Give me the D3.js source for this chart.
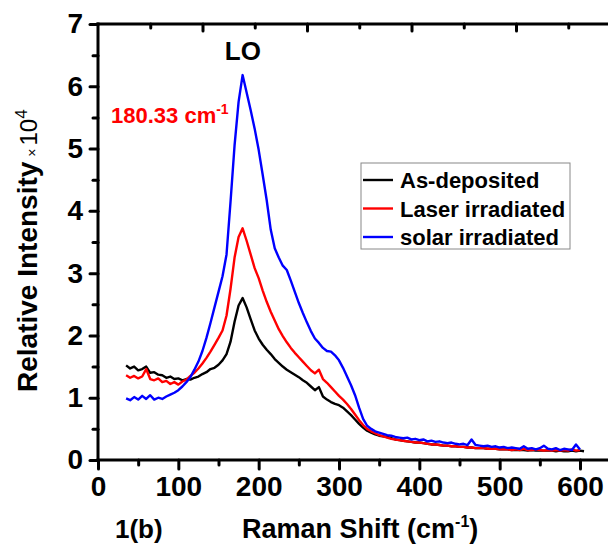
<!DOCTYPE html>
<html><head><meta charset="utf-8">
<script src="https://cdn.jsdelivr.net/npm/d3@7"></script>
<style>
body{margin:0;background:#fff}
text{font-family:"Liberation Sans",Arial,sans-serif}
</style>
</head><body>
<svg id="chart" width="608" height="550"></svg>
<script>
// ---- data (Raman shift grid: 35..600 cm-1, step 5) ----
const shiftStart = 35, shiftStep = 5;
const asDeposited = [
1.52,1.47,1.50,1.44,1.46,1.50,1.40,1.41,1.37,1.36,1.32,1.34,1.30,1.31,1.28,1.30,1.29,1.32,1.34,1.38,
1.41,1.46,1.48,1.53,1.60,1.70,1.90,2.22,2.48,2.60,2.45,2.26,2.08,1.95,1.85,1.77,1.70,1.62,1.56,1.50,
1.45,1.41,1.37,1.33,1.28,1.24,1.18,1.12,1.17,1.02,0.97,0.93,0.90,0.88,0.84,0.78,0.72,0.65,0.58,0.52,
0.47,0.44,0.41,0.39,0.38,0.37,0.35,0.33,0.32,0.31,0.30,0.29,0.28,0.28,0.27,0.26,0.25,0.25,0.24,0.23,
0.23,0.22,0.22,0.21,0.21,0.20,0.20,0.19,0.19,0.19,0.18,0.18,0.18,0.17,0.17,0.17,0.16,0.16,0.16,0.16,
0.15,0.16,0.15,0.15,0.15,0.15,0.15,0.14,0.15,0.14,0.14,0.15,0.14,0.15,0.14];
const laserIrradiated = [
1.36,1.32,1.35,1.31,1.34,1.46,1.30,1.28,1.31,1.25,1.27,1.22,1.25,1.21,1.26,1.29,1.35,1.40,1.47,1.55,
1.64,1.74,1.85,1.96,2.08,2.32,2.75,3.25,3.58,3.72,3.52,3.30,3.08,2.92,2.72,2.54,2.38,2.24,2.10,1.99,
1.89,1.80,1.72,1.65,1.58,1.51,1.44,1.39,1.45,1.30,1.24,1.17,1.10,1.03,0.97,0.90,0.82,0.73,0.64,0.56,
0.50,0.46,0.43,0.40,0.38,0.36,0.34,0.33,0.32,0.31,0.30,0.29,0.28,0.28,0.27,0.26,0.25,0.25,0.24,0.23,
0.23,0.22,0.22,0.21,0.21,0.20,0.20,0.19,0.19,0.19,0.18,0.18,0.18,0.17,0.17,0.17,0.16,0.17,0.16,0.18,
0.16,0.16,0.17,0.16,0.15,0.16,0.15,0.16,0.15,0.16,0.15,0.17,0.15,0.16];
const solarIrradiated = [
0.99,0.96,1.01,0.97,1.03,0.98,1.04,0.97,1.00,0.98,1.02,1.05,1.08,1.12,1.18,1.25,1.33,1.45,1.58,1.75,
1.96,2.20,2.45,2.70,2.95,3.30,4.15,5.05,5.75,6.18,5.90,5.62,5.32,4.98,4.58,4.17,3.70,3.40,3.25,3.12,
3.05,2.88,2.70,2.52,2.36,2.21,2.07,1.95,1.88,1.80,1.75,1.74,1.68,1.60,1.48,1.34,1.20,1.04,0.84,0.66,
0.55,0.50,0.46,0.44,0.42,0.40,0.39,0.37,0.36,0.35,0.36,0.33,0.34,0.32,0.33,0.30,0.31,0.29,0.30,0.28,
0.27,0.28,0.26,0.25,0.26,0.24,0.33,0.24,0.23,0.22,0.23,0.21,0.22,0.20,0.21,0.19,0.20,0.19,0.18,0.22,
0.18,0.19,0.17,0.19,0.23,0.18,0.17,0.19,0.16,0.18,0.17,0.16,0.25,0.17];

const seriesNames  = ["As-deposited", "Laser irradiated", "solar irradiated"];
const seriesColors = ["#000000", "#ff0000", "#0000ff"];
const seriesValues = [asDeposited, laserIrradiated, solarIrradiated];

const xTicks      = [0, 100, 200, 300, 400, 500, 600];
const xMinorTicks = [50, 150, 250, 350, 450, 550];
const yTicks      = [0, 1, 2, 3, 4, 5, 6, 7];
const yMinorTicks = [0.5, 1.5, 2.5, 3.5, 4.5, 5.5, 6.5];
const topMajor    = [100, 200, 300, 400];
const topMinor    = [50, 150, 250, 350, 450];

// ---- layout ----
const svg = d3.select("#chart");
const X0 = 98, X1 = 580, Y0 = 460, Y1 = 24;
const x = d3.scaleLinear().domain([0, 600]).range([X0, X1]);
const y = d3.scaleLinear().domain([0, 7]).range([Y0, Y1]);
const xTop = d3.scaleLinear().domain([0, 100]).range([X0, X0 + 104.5]);

const F = '"Liberation Sans", Arial, sans-serif';
function styleAxis(g){
  g.select(".domain").remove();
  g.selectAll(".tick line").attr("stroke","#000").attr("stroke-width",3).attr("stroke-linecap","round");
  g.selectAll(".tick text").attr("font-family",F).attr("font-weight","bold").attr("font-size",28).attr("fill","#000");
}

// curves
const line = d3.line().x(d => x(d[0])).y(d => y(d[1]));
seriesValues.forEach((vals, k) => {
  const pts = vals.map((v, i) => [shiftStart + i*shiftStep, v]);
  svg.append("path").datum(pts).attr("d", line)
    .attr("fill","none").attr("stroke", seriesColors[k]).attr("stroke-width",2.4).attr("stroke-linejoin","round");
});

// bottom axis
svg.append("g").attr("transform",`translate(0,${Y0})`)
  .call(d3.axisBottom(x).tickValues(xTicks).tickSize(9).tickPadding(7).tickFormat(d3.format("d")))
  .call(styleAxis);
svg.append("g").attr("transform",`translate(0,${Y0})`)
  .call(d3.axisBottom(x).tickValues(xMinorTicks).tickSize(5).tickFormat(""))
  .call(styleAxis);
// left axis
svg.append("g").attr("transform",`translate(${X0},0)`)
  .call(d3.axisLeft(y).tickValues(yTicks).tickSize(8).tickPadding(7).tickFormat(d3.format("d")))
  .call(styleAxis);
svg.append("g").attr("transform",`translate(${X0},0)`)
  .call(d3.axisLeft(y).tickValues(yMinorTicks).tickSize(5).tickFormat(""))
  .call(styleAxis);
// top axis (ticks point down)
svg.append("g").attr("transform",`translate(0,${Y1})`)
  .call(d3.axisBottom(xTop).tickValues(topMajor).tickSize(7).tickFormat(""))
  .call(styleAxis);
svg.append("g").attr("transform",`translate(0,${Y1})`)
  .call(d3.axisBottom(xTop).tickValues(topMinor).tickSize(4).tickFormat(""))
  .call(styleAxis);

// frame lines
svg.append("line").attr("x1",X0).attr("x2",X0).attr("y1",Y1-1.5).attr("y2",Y0+1.5).attr("stroke","#000").attr("stroke-width",3);
svg.append("line").attr("x1",X0-1.5).attr("x2",608).attr("y1",Y0).attr("y2",Y0).attr("stroke","#000").attr("stroke-width",3);
svg.append("line").attr("x1",X0-1.5).attr("x2",608).attr("y1",Y1).attr("y2",Y1).attr("stroke","#000").attr("stroke-width",3);

// y axis title
const yt = svg.append("text").attr("transform","translate(37,392) rotate(-90)")
  .attr("font-family",F).attr("fill","#000");
yt.append("tspan").attr("font-weight","bold").attr("font-size",28).text("Relative Intensity");
yt.append("tspan").attr("font-size",14).attr("dx",5).text("×");
yt.append("tspan").attr("font-size",24).attr("dx",3).text("10");
yt.append("tspan").attr("font-size",17).attr("dy",-10).text("4");

// x axis title
const xt = svg.append("text").attr("x",242).attr("y",538).attr("font-family",F).attr("font-weight","bold").attr("font-size",27).attr("fill","#000");
xt.append("tspan").text("Raman Shift (cm");
xt.append("tspan").attr("font-size",16).attr("dy",-11).text("-1");
xt.append("tspan").attr("dy",11).text(")");

svg.append("text").attr("x",115).attr("y",538).attr("font-family",F).attr("font-weight","bold").attr("font-size",26).text("1(b)");

// annotations
svg.append("text").attr("x",x(180.33)).attr("y",60).attr("text-anchor","middle")
  .attr("font-family",F).attr("font-weight","bold").attr("font-size",26).text("LO");
const pk = svg.append("text").attr("x",111).attr("y",123).attr("font-family",F).attr("font-weight","bold").attr("font-size",22).attr("fill","#ff0000");
pk.append("tspan").text("180.33 cm");
pk.append("tspan").attr("font-size",14).attr("dy",-9).text("-1");

// legend
const lg = svg.append("g");
lg.append("rect").attr("x",361).attr("y",163).attr("width",209).attr("height",86)
  .attr("fill","#fff").attr("stroke","#888").attr("stroke-width",1);
seriesNames.forEach((n, k) => {
  const cy = 180 + k*28.5;
  lg.append("line").attr("x1",363).attr("x2",393).attr("y1",cy).attr("y2",cy).attr("stroke",seriesColors[k]).attr("stroke-width",2.4);
  lg.append("text").attr("x",400).attr("y",cy+8).attr("font-family",F).attr("font-weight","bold").attr("font-size",22).text(n);
});
</script>
</body></html>
